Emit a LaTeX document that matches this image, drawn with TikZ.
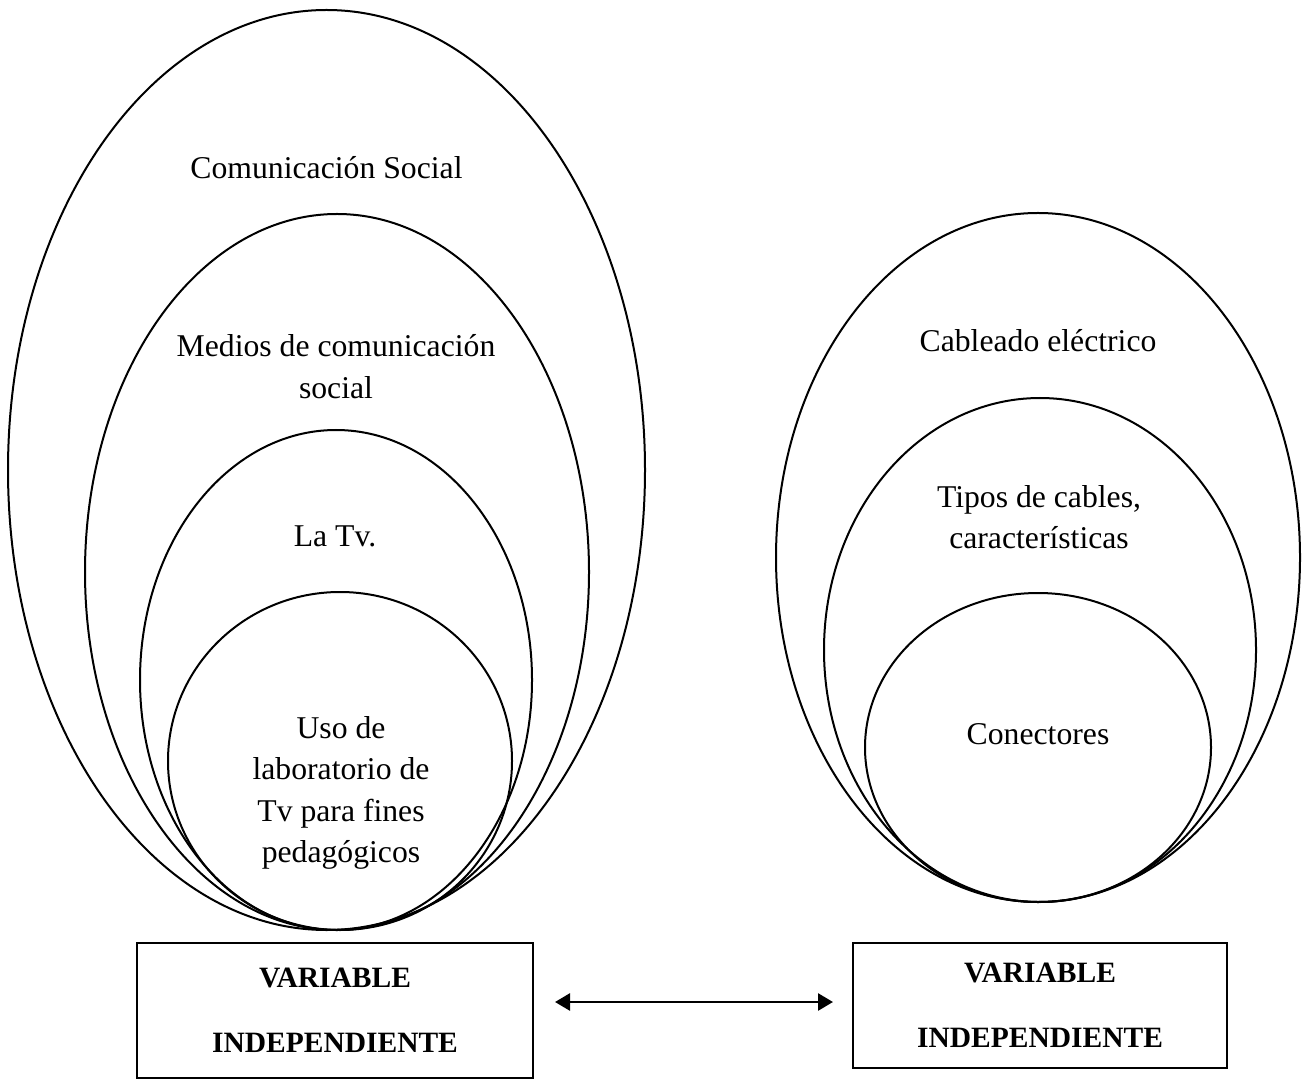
\documentclass[tikz,border=0pt]{standalone}
\usepackage{fontspec}
\setmainfont{Liberation Serif}
\usetikzlibrary{arrows.meta}
\begin{document}
\begin{tikzpicture}[x=0.5pt,y=-0.5pt,
  ring/.style={line width=1pt},
  lbl/.style={align=center, inner sep=0pt, font=\fontsize{15.85pt}{20.75pt}\selectfont},
  varbox/.style={draw, line width=1pt, inner sep=0pt, align=center, font=\fontsize{14.75pt}{32.5pt}\selectfont\bfseries},
  link/.style={line width=1.35pt, {Triangle[length=7.5pt,width=8.5pt]}-{Triangle[length=7.5pt,width=8.5pt]}}]
\useasboundingbox (0,0) rectangle (1305,1079);
% left group
\draw[ring] (326.5,470) ellipse [x radius=159.25pt, y radius=230pt];
\draw[ring] (337,572) ellipse [x radius=126pt, y radius=179pt];
\draw[ring] (336,680) ellipse [x radius=98pt, y radius=125pt];
\draw[ring] (340,761) ellipse [x radius=86pt, y radius=84.5pt];
\node[lbl] (comsoc) at (326.5,168) {Comunicación Social};
\node[lbl] (medios) at (336,366.5) {Medios de comunicación\\social};
\node[lbl] (latv) at (335,536) {La Tv.};
\node[lbl] (uso) at (341,793) {Uso de\\laboratorio de\\Tv para fines\\pedagógicos};
% right group
\draw[ring] (1038,557.5) ellipse [x radius=131pt, y radius=172.25pt];
\draw[ring] (1040,650) ellipse [x radius=108pt, y radius=126pt];
\draw[ring] (1038,747.5) ellipse [x radius=86.5pt, y radius=77.25pt];
\node[lbl] (cableado) at (1038,341) {Cableado eléctrico};
\node[lbl] (tipos) at (1039,517) {Tipos de cables,\\características};
\node[lbl] (conect) at (1038,734) {Conectores};
% boxes
\node[varbox, minimum width=198pt, minimum height=67.5pt] (lbox) at (335,1010.5) {VARIABLE\\INDEPENDIENTE};
\node[varbox, minimum width=187pt, minimum height=62.5pt] (rbox) at (1040,1005.5) {VARIABLE\\INDEPENDIENTE};
\coordinate (aL) at (555,1002);
\coordinate (aR) at (833,1002);
\draw[link] (aL) -- (aR);
\end{tikzpicture}
\end{document}
